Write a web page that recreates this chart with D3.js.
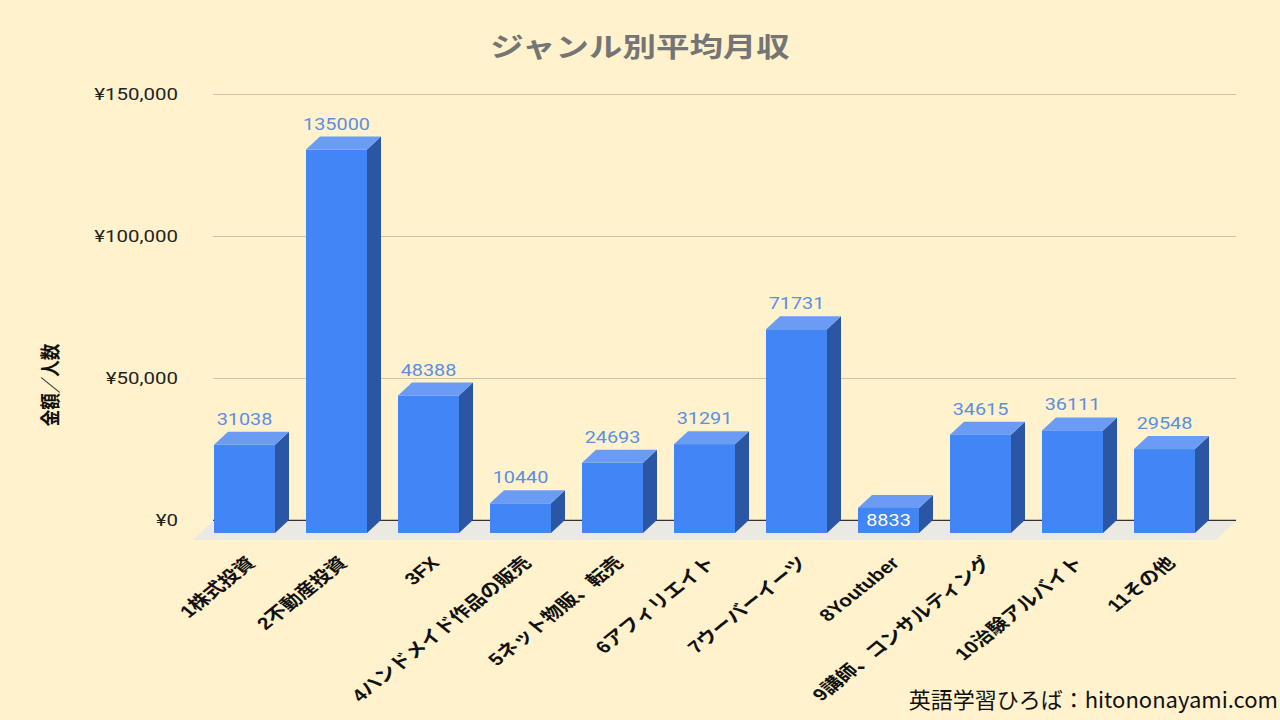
<!DOCTYPE html>
<html>
<head>
<meta charset="utf-8">
<script src="https://cdn.jsdelivr.net/npm/d3@7"></script>
<style>
  html, body { margin: 0; padding: 0; background: #fff2cc; }
  svg { display: block; }
</style>
</head>
<body>
<div id="chart"></div>
<script>
const WIDTH = 1280;
const HEIGHT = 720;
const PLOT_LEFT = 213;
const PLOT_RIGHT = 1236;
const PLOT_TOP = 94;
const PLOT_BOTTOM = 520;
const DEPTH_X = 14;
const DEPTH_Y = 13;
const STRETCH = 1.24; // the source picture is stretched sideways
const CJK = '"Liberation Sans", "Noto Sans CJK JP", sans-serif';

const categories = ['1株式投資', '2不動産投資', '3FX', '4ハンドメイド作品の販売', '5ネット物販、転売',
  '6アフィリエイト', '7ウーバーイーツ', '8Youtuber', '9講師、コンサルティング', '10治験アルバイト', '11その他'];
const values = [31038, 135000, 48388, 10440, 24693, 31291, 71731, 8833, 34615, 36111, 29548];
const yTicks = [0, 50000, 100000, 150000];

const data = categories.map((c, i) => ({ cat: c, value: values[i] }));

const svg = d3.select('#chart')
  .append('svg')
  .attr('width', WIDTH)
  .attr('height', HEIGHT);

const stretch = (x, y, rot) => `translate(${x},${y}) scale(${STRETCH},1)` + (rot ? ` rotate(${rot})` : '');

// back plane scale (gridlines), front faces sit DEPTH_Y lower and DEPTH_X to the left
const yScale = d3.scaleLinear()
  .domain([0, 150000])
  .range([PLOT_BOTTOM, PLOT_TOP]);

const xScale = d3.scaleBand()
  .domain(categories)
  .range([191, 1218])
  .paddingInner(0.337)
  .paddingOuter(0.25);

const bw = xScale.bandwidth();

// title
svg.append('text')
  .attr('transform', stretch(640, 57))
  .attr('text-anchor', 'middle')
  .style('font-family', CJK)
  .style('font-size', '27px')
  .style('font-weight', 'bold')
  .style('fill', '#757575')
  .text('ジャンル別平均月収');

// y axis with gridlines
const yAxis = d3.axisLeft(yScale)
  .tickValues(yTicks)
  .tickSizeInner(-(PLOT_RIGHT - PLOT_LEFT))
  .tickSizeOuter(0)
  .tickFormat(d => '¥' + d3.format(',')(d));

const yG = svg.append('g')
  .attr('id', 'y-axis')
  .attr('transform', `translate(${PLOT_LEFT},0)`)
  .call(yAxis);
yG.select('.domain').remove();
yG.selectAll('line')
  .attr('stroke', d => d === 0 ? '#333' : '#cdc6a6')
  .attr('stroke-width', d => d === 0 ? 1.5 : 1);
yG.selectAll('text')
  .attr('x', 0)
  .attr('transform', stretch(-35, 0))
  .style('font-family', 'Roboto, sans-serif')
  .style('font-size', '16.5px')
  .style('fill', '#222');

// floor
svg.append('polygon')
  .attr('points', [[PLOT_LEFT, PLOT_BOTTOM + 1], [PLOT_RIGHT, PLOT_BOTTOM + 1],
    [PLOT_RIGHT - 20, PLOT_BOTTOM + 20], [PLOT_LEFT - 20, PLOT_BOTTOM + 20]].join(' '))
  .attr('fill', '#ebe9e4');

// bars
const bars = svg.append('g').selectAll('g')
  .data(data)
  .enter()
  .append('g');

const y0f = yScale(0) + DEPTH_Y;

bars.append('polygon')
  .attr('fill', '#2a56a3')
  .attr('points', d => {
    const x = xScale(d.cat) + bw, yf = yScale(d.value) + DEPTH_Y;
    return [[x, yf], [x + DEPTH_X, yf - DEPTH_Y], [x + DEPTH_X, y0f - DEPTH_Y], [x, y0f]].join(' ');
  });

bars.append('polygon')
  .attr('fill', '#6a9cf5')
  .attr('points', d => {
    const x = xScale(d.cat), yf = yScale(d.value) + DEPTH_Y;
    return [[x, yf], [x + bw, yf], [x + bw + DEPTH_X, yf - DEPTH_Y], [x + DEPTH_X, yf - DEPTH_Y]].join(' ');
  });

bars.append('rect')
  .attr('x', d => xScale(d.cat))
  .attr('y', d => yScale(d.value) + DEPTH_Y)
  .attr('width', bw)
  .attr('height', d => yScale(0) - yScale(d.value))
  .attr('fill', '#4285f4');

// value labels, small bars get a white label inside
bars.append('text')
  .attr('text-anchor', 'middle')
  .attr('transform', d => {
    const cx = xScale(d.cat) + bw / 2;
    const yf = yScale(d.value) + DEPTH_Y;
    return d.value < 10000 ? stretch(cx, (yf + y0f) / 2 + 6) : stretch(cx, yf - DEPTH_Y - 7);
  })
  .style('font-family', 'Roboto, sans-serif')
  .style('font-size', '16px')
  .style('fill', d => d.value < 10000 ? '#ffffff' : '#5b8fe2')
  .text(d => d.value);

// x axis labels
const xAxis = d3.axisBottom(xScale).tickSize(0);
const xG = svg.append('g')
  .attr('id', 'x-axis')
  .attr('transform', 'translate(0,564)')
  .call(xAxis);
xG.select('.domain').remove();
xG.selectAll('text')
  .attr('x', 0)
  .attr('y', 0)
  .attr('dy', 0)
  .attr('text-anchor', 'end')
  .attr('transform', stretch(12, 0, -45))
  .style('font-family', CJK)
  .style('font-size', '17px')
  .style('font-weight', 'bold')
  .style('fill', '#111');

// y axis title
svg.append('text')
  .attr('text-anchor', 'middle')
  .attr('transform', stretch(58, 385, -90))
  .style('font-family', CJK)
  .style('font-size', '16.5px')
  .style('font-weight', 'bold')
  .style('fill', '#111')
  .text('金額／人数');

// watermark
svg.append('text')
  .attr('x', 1278)
  .attr('y', 708)
  .attr('text-anchor', 'end')
  .style('font-family', '"Noto Sans CJK JP", sans-serif')
  .style('font-size', '22px')
  .style('fill', '#111')
  .text('英語学習ひろば：hitononayami.com');
</script>
</body>
</html>
